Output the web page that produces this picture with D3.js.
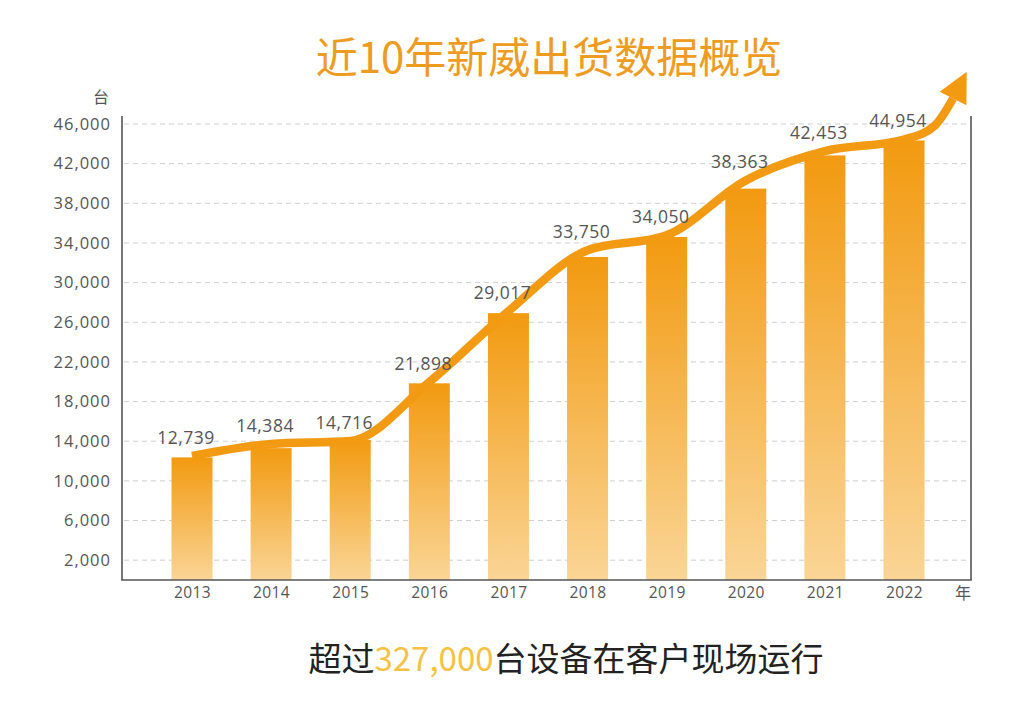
<!DOCTYPE html>
<html>
<head>
<meta charset="utf-8">
<script src="https://cdn.jsdelivr.net/npm/d3@7"></script>
<style>
  html, body { margin: 0; padding: 0; background: #ffffff; }
  svg { display: block; }
</style>
</head>
<body>
<div id="chart"></div>
<script>
// ---- data ----
const years = [2013, 2014, 2015, 2016, 2017, 2018, 2019, 2020, 2021, 2022];
const shipmentLabels = [12739, 14384, 14716, 21898, 29017, 33750, 34050, 38363, 42453, 44954];
const barValues = [12370, 13300, 14130, 19840, 26920, 32590, 34600, 39480, 42830, 44340];
const trendYears = [2013, 2014, 2015, 2016, 2017, 2018, 2019, 2020, 2021, 2022, 2022.39, 2022.62];
const trendValues = [12520, 13730, 14030, 19970, 27120, 33260, 34770, 40310, 43260, 44440, 45850, 48570];
const yTicks = [2000, 6000, 10000, 14000, 18000, 22000, 26000, 30000, 34000, 38000, 42000, 46000];
const titleText = "近10年新威出货数据概览";
const subtitleParts = ["超过", "327,000", "台设备在客户现场运行"];
const yUnit = "台";
const xUnit = "年";

// ---- layout ----
const W = 1024, H = 713;
const plotLeft = 122, plotRight = 971, plotTop = 116, plotBottom = 580;
const barWidth = 41;
const numFont = "'Open Sans', 'DejaVu Sans', sans-serif";
const cjkFont = "'Noto Sans CJK SC', 'Noto Sans', sans-serif";

const svg = d3.select("#chart").append("svg")
  .attr("width", W).attr("height", H)
  .attr("viewBox", `0 0 ${W} ${H}`);

const defs = svg.append("defs");
const grad = defs.append("linearGradient")
  .attr("id", "barGrad").attr("x1", 0).attr("y1", 0).attr("x2", 0).attr("y2", 1);
grad.append("stop").attr("offset", "0%").attr("stop-color", "#F29A10");
grad.append("stop").attr("offset", "100%").attr("stop-color", "#FAD596");

const x = d3.scaleLinear().domain([2013, 2022]).range([192, 904]);
const y = d3.scaleLinear().domain([0, 46000]).range([580, 124]);

// gridlines
svg.append("g").selectAll("line").data(yTicks).join("line")
  .attr("x1", plotLeft + 2).attr("x2", plotRight)
  .attr("y1", d => y(d)).attr("y2", d => y(d))
  .attr("stroke", "#cfcfcf").attr("stroke-width", 1)
  .attr("stroke-dasharray", "5,4");

// y axis labels via d3 axis
const yAxis = d3.axisLeft(y).tickValues(yTicks).tickSize(0).tickPadding(11)
  .tickFormat(d3.format(","));
const yg = svg.append("g").attr("transform", `translate(${plotLeft},0)`).call(yAxis);
yg.select(".domain").remove();
yg.selectAll("text")
  .attr("font-family", numFont).attr("font-size", 16.5)
  .attr("letter-spacing", "1px")
  .attr("fill", "#555");

// bars
svg.append("g").selectAll("rect").data(years).join("rect")
  .attr("x", (d) => x(d) - barWidth / 2)
  .attr("width", barWidth)
  .attr("y", (d, i) => y(barValues[i]))
  .attr("height", (d, i) => y(0) - y(barValues[i]))
  .attr("fill", "url(#barGrad)");

// x axis labels
const xAxis = d3.axisBottom(x).tickValues(years).tickSize(0).tickPadding(7)
  .tickFormat(d3.format("d"));
const xg = svg.append("g").attr("transform", `translate(0,${plotBottom})`).call(xAxis);
xg.select(".domain").remove();
xg.selectAll("text")
  .attr("font-family", numFont).attr("font-size", 15.5)
  .attr("letter-spacing", "0.4px")
  .attr("fill", "#555");

// frame lines
const frame = svg.append("g").attr("stroke", "#555").attr("stroke-width", 1.6).attr("fill", "none");
frame.append("line").attr("x1", plotLeft).attr("x2", plotLeft).attr("y1", plotTop).attr("y2", plotBottom);
frame.append("line").attr("x1", plotRight).attr("x2", plotRight).attr("y1", plotTop).attr("y2", plotBottom);
frame.append("line").attr("x1", plotLeft - 0.8).attr("x2", plotRight + 0.8).attr("y1", plotBottom).attr("y2", plotBottom);

// trend line
const trendPts = trendYears.map((t, i) => [x(t), y(trendValues[i])]);
const lineGen = d3.line().curve(d3.curveMonotoneX);
svg.append("path")
  .attr("d", lineGen(trendPts))
  .attr("fill", "none")
  .attr("stroke", "#F29A12")
  .attr("stroke-width", 8.5)
  .attr("stroke-linecap", "butt");

// arrowhead at end of trend
{
  const n = trendPts.length;
  const [bx, by] = trendPts[n - 1];
  const [px, py] = trendPts[n - 2];
  let dx = bx - px, dy = by - py;
  const len = Math.hypot(dx, dy); dx /= len; dy /= len;
  const ang = Math.atan2(dy, dx) - 0.12;
  const ux = Math.cos(ang), uy = Math.sin(ang);
  const L = 30, hw = 15;
  const tip = [bx + ux * L, by + uy * L];
  const c1 = [bx - uy * hw, by + ux * hw];
  const c2 = [bx + uy * hw, by - ux * hw];
  svg.append("path")
    .attr("d", `M${c1[0]},${c1[1]}L${tip[0]},${tip[1]}L${c2[0]},${c2[1]}Z`)
    .attr("fill", "#F29A12");
}

// data labels
svg.append("g").selectAll("text").data(years).join("text")
  .attr("x", d => x(d) - 6)
  .attr("y", (d, i) => y(trendValues[i]) - 12)
  .attr("text-anchor", "middle")
  .attr("font-family", numFont).attr("font-size", 17.5)
  .attr("letter-spacing", "0.5px")
  .attr("fill", "#555")
  .text((d, i) => d3.format(",")(shipmentLabels[i]));

// unit labels
svg.append("text").attr("x", 101).attr("y", 103).attr("text-anchor", "middle")
  .attr("font-family", cjkFont).attr("font-size", 16).attr("fill", "#555").text(yUnit);
svg.append("text").attr("x", 963).attr("y", 599).attr("text-anchor", "middle")
  .attr("font-family", cjkFont).attr("font-size", 16).attr("fill", "#555").text(xUnit);

// title
svg.append("text").attr("x", 549).attr("y", 73).attr("text-anchor", "middle")
  .attr("font-family", cjkFont).attr("font-size", 42).attr("fill", "#EE9B22")
  .text(titleText);

// subtitle
const sub = svg.append("text").attr("x", 566).attr("y", 671).attr("text-anchor", "middle")
  .attr("font-family", cjkFont).attr("font-size", 33).attr("fill", "#222");
sub.append("tspan").text(subtitleParts[0]);
sub.append("tspan").attr("fill", "#F5C244").text(subtitleParts[1]);
sub.append("tspan").text(subtitleParts[2]);
</script>
</body>
</html>
